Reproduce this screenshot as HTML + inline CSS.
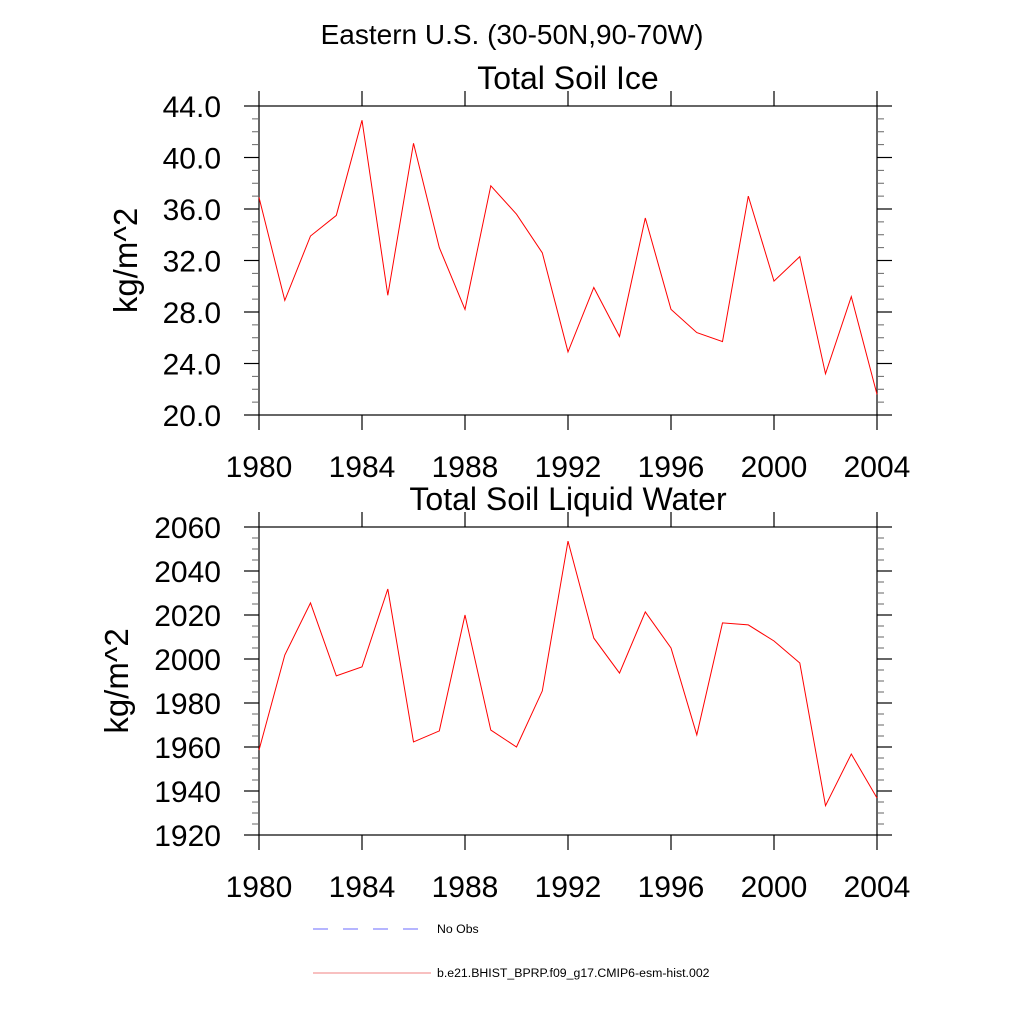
<!DOCTYPE html>
<html><head><meta charset="utf-8"><style>
html,body{margin:0;padding:0;background:#fff;}
svg{display:block;font-family:"Liberation Sans",Arial,sans-serif;}
</style></head><body>
<svg id="chart" width="1024" height="1024" xmlns="http://www.w3.org/2000/svg">
<text x="512" y="44" text-anchor="middle" font-size="28">Eastern U.S. (30-50N,90-70W)</text>
<g id="p1"></g>
<g id="p2"></g>
<g>
<line x1="313" y1="929" x2="418" y2="929" stroke="#6b6bff" stroke-width="1" stroke-dasharray="15,15"/>
<text x="437" y="933" font-size="12.3">No Obs</text>
<line x1="313" y1="973" x2="431" y2="973" stroke="#f08080" stroke-width="1"/>
<text x="437" y="977" font-size="12.3">b.e21.BHIST_BPRP.f09_g17.CMIP6-esm-hist.002</text>
</g>
</svg>
<script>
const years = [1980,1981,1982,1983,1984,1985,1986,1987,1988,1989,1990,1991,1992,1993,1994,1995,1996,1997,1998,1999,2000,2001,2002,2003,2004];
const iceValues = [36.9,28.9,33.9,35.5,42.9,29.3,41.1,33.0,28.2,37.8,35.6,32.6,24.9,29.9,26.1,35.3,28.2,26.4,25.7,37.0,30.4,32.3,23.2,29.2,21.6];
const liquidValues = [1958.6,2001.8,2025.5,1992.3,1996.4,2031.8,1962.3,1967.3,2020.0,1967.7,1960.0,1985.5,2053.6,2009.5,1993.6,2021.4,2005.0,1965.5,2016.4,2015.5,2008.2,1998.2,1933.3,1956.8,1936.8];
const xTicks = [1980,1984,1988,1992,1996,2000,2004];
const iceTicks = [20,24,28,32,36,40,44];
const iceTickLabels = ["20.0","24.0","28.0","32.0","36.0","40.0","44.0"];
const liquidTicks = [1920,1940,1960,1980,2000,2020,2040,2060];
const liquidTickLabels = ["1920","1940","1960","1980","2000","2020","2040","2060"];

const NS="http://www.w3.org/2000/svg";
function mk(parent,tag,attrs,txt){const e=document.createElementNS(NS,tag);for(const k in attrs)e.setAttribute(k,attrs[k]);if(txt!==undefined)e.textContent=txt;parent.appendChild(e);return e;}

function panel(g,cfg){
  const L=259,R=877,T=cfg.top,B=cfg.bottom;
  const x=v=>L+(v-1980)/(2004-1980)*(R-L);
  const y=v=>B-(v-cfg.min)/(cfg.max-cfg.min)*(B-T);
  const t=mk(g,'text',{x:568,y:T-17,'text-anchor':'middle','font-size':32},cfg.title);
  
  
  const fr=mk(g,'rect',{x:L,y:T,width:R-L,height:B-T,fill:'none',stroke:'#000','stroke-width':1.2});
  
  
  for(let v=cfg.min;v<=cfg.max+1e-9;v+=cfg.minor){
    const yy=y(v);
    mk(g,'line',{x1:L-7,x2:L,y1:yy,y2:yy,stroke:'#666','stroke-width':1});
    mk(g,'line',{x1:R,x2:R+7,y1:yy,y2:yy,stroke:'#666','stroke-width':1});
  }
  cfg.ticks.forEach((v,i)=>{
    const yy=y(v);
    const tk=mk(g,'line',{x1:L-15,x2:L,y1:yy,y2:yy,stroke:'#000','stroke-width':1.2});
    
    
    mk(g,'line',{x1:R,x2:R+15,y1:yy,y2:yy,stroke:'#000','stroke-width':1.2});
    const lb=mk(g,'text',{x:221,y:yy+11,'text-anchor':'end','font-size':30},cfg.labels[i]);
    
    
  });
  xTicks.forEach(v=>{
    const xx=x(v);
    const tk=mk(g,'line',{x1:xx,x2:xx,y1:B,y2:B+15,stroke:'#000','stroke-width':1.2});
    
    
    mk(g,'line',{x1:xx,x2:xx,y1:T-15,y2:T,stroke:'#000','stroke-width':1.2});
    const lb=mk(g,'text',{x:xx,y:B+62,'text-anchor':'middle','font-size':30},String(v));
    
    
  });
  const yt=mk(g,'text',{x:0,y:0,'text-anchor':'middle','font-size':33,transform:`translate(${cfg.ytx},${(T+B)/2}) rotate(-90)`},'kg/m^2');
  
  
  const pts=years.map((yr,i)=>x(yr).toFixed(1)+','+y(cfg.values[i]).toFixed(1)).join(' ');
  const pl=mk(g,'polyline',{points:pts,fill:'none',stroke:'#ff0000','stroke-width':1});
  
  
}
panel(document.getElementById('p1'),{top:106,bottom:415,min:20,max:44,minor:1,ticks:iceTicks,labels:iceTickLabels,values:iceValues,title:'Total Soil Ice',ytx:137});
panel(document.getElementById('p2'),{top:527,bottom:835,min:1920,max:2060,minor:5,ticks:liquidTicks,labels:liquidTickLabels,values:liquidValues,title:'Total Soil Liquid Water',ytx:128});
</script>
</body></html>
